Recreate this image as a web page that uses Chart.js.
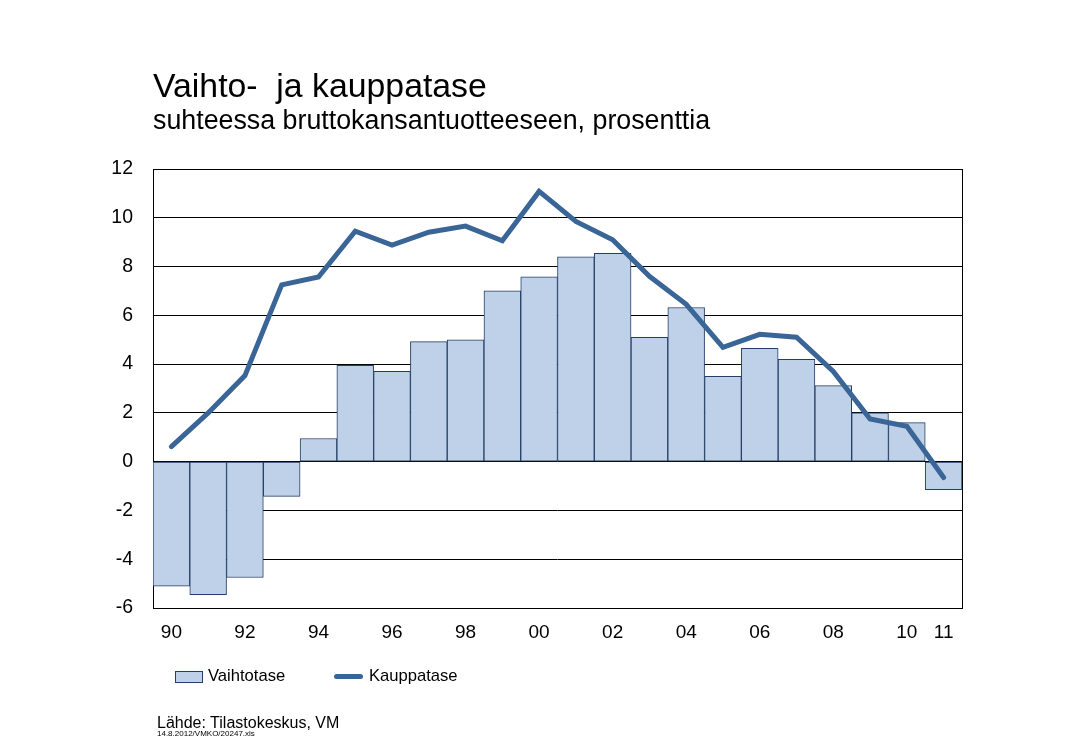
<!DOCTYPE html>
<html>
<head>
<meta charset="utf-8">
<script src="https://cdn.jsdelivr.net/npm/chart.js@4/dist/chart.umd.min.js"></script>
<style>
  html, body { margin: 0; padding: 0; background: #fff; }
  body { width: 1077px; height: 749px; position: relative; overflow: hidden; font-family: "Liberation Sans", Arial, sans-serif; color: #000; }
  #wrap { position: absolute; left: 0; top: 0; width: 1077px; height: 749px; }
  .t { position: absolute; white-space: pre; line-height: 1; }
  #title { left: 153px; top: 69px; font-size: 33.8px; }
  #subtitle { left: 153px; top: 106.5px; font-size: 26.8px; }
  .leg { position: absolute; font-size: 16.6px; line-height: 1; top: 668px; white-space: pre; }
  #legBox { position: absolute; left: 175px; top: 671px; width: 26px; height: 10px; background: #bfd0e9; border: 1px solid #243f66; }
  #legLine { position: absolute; left: 334px; top: 673.5px; width: 29px; height: 5px; background: #3a6597; border-radius: 2.5px; }
  #source { left: 157px; top: 714.5px; font-size: 16px; }
  #file { left: 157px; top: 730px; font-size: 8px; }
</style>
</head>
<body>
<div id="wrap"><canvas id="c"></canvas></div>
<div class="t" id="title">Vaihto-  ja kauppatase</div>
<div class="t" id="subtitle">suhteessa bruttokansantuotteeseen, prosenttia</div>
<div id="legBox"></div>
<div class="leg" style="left:208px">Vaihtotase</div>
<div id="legLine"></div>
<div class="leg" style="left:369px">Kauppatase</div>
<div class="t" id="source">Lähde: Tilastokeskus, VM</div>
<div class="t" id="file">14.8.2012/VMKO/20247.xls</div>
<script>
const categories = ['90','91','92','93','94','95','96','97','98','99','00','01','02','03','04','05','06','07','08','09','10','11'];
const vaihtotase = [-5.1, -5.45, -4.75, -1.42, 0.95, 3.95, 3.7, 4.92, 5.0, 7.0, 7.58, 8.4, 8.54, 5.1, 6.32, 3.5, 4.65, 4.2, 3.12, 2.0, 1.6, -1.15];
const kauppatase = [0.62, 2.0, 3.53, 7.25, 7.57, 9.45, 8.88, 9.41, 9.66, 9.06, 11.08, 9.85, 9.1, 7.6, 6.45, 4.69, 5.22, 5.1, 3.7, 1.75, 1.45, -0.65];
const shownXTicks = ['90','92','94','96','98','00','02','04','06','08','10','11'];
const yMin = -6, yMax = 12, yStep = 2;

const FONT = '"Liberation Sans", Arial, sans-serif';

const frame = {
  id: 'frame',
  beforeDatasetsDraw(chart) {
    const a = chart.chartArea, ctx = chart.ctx;
    ctx.save();
    ctx.strokeStyle = '#000';
    ctx.lineWidth = 1;
    ctx.strokeRect(Math.round(a.left) + 0.5, Math.round(a.top) + 0.5, Math.round(a.right - a.left), Math.round(a.bottom - a.top));
    ctx.restore();
  }
};

new Chart(document.getElementById('c'), {
  data: {
    labels: categories,
    datasets: [
      {
        type: 'line',
        label: 'Kauppatase',
        data: kauppatase,
        borderColor: '#3a6597',
        backgroundColor: '#3a6597',
        borderWidth: 5,
        borderCapStyle: 'round',
        borderJoinStyle: 'miter',
        pointRadius: 0,
        pointHoverRadius: 0,
        tension: 0,
        order: 1
      },
      {
        type: 'bar',
        label: 'Vaihtotase',
        data: vaihtotase,
        backgroundColor: '#bfd0e9',
        borderColor: '#243f66',
        borderWidth: 1,
        borderSkipped: false,
        barPercentage: 1,
        categoryPercentage: 1,
        order: 2
      }
    ]
  },
  options: {
    responsive: true,
    maintainAspectRatio: false,
    animation: false,
    events: [],
    layout: { padding: { left: 0, right: 115, top: 169, bottom: 101 } },
    plugins: {
      legend: { display: false },
      title: { display: false },
      tooltip: { enabled: false }
    },
    scales: {
      x: {
        type: 'category',
        offset: true,
        grid: { display: false, drawTicks: false },
        border: { display: false },
        afterFit(scale) { scale.height = 40; },
        ticks: {
          autoSkip: false,
          maxRotation: 0,
          padding: 13,
          color: '#000',
          font: { family: FONT, size: 19 },
          callback(value, index) {
            const lab = categories[index];
            return shownXTicks.includes(lab) ? lab : '';
          }
        }
      },
      y: {
        min: yMin,
        max: yMax,
        afterFit(scale) { scale.width = 153; },
        grid: { color: '#000', lineWidth: 1, drawTicks: false },
        border: { display: false },
        ticks: {
          stepSize: yStep,
          padding: 20,
          color: '#000',
          font: { family: FONT, size: 19.5 }
        }
      }
    }
  },
  plugins: [frame]
});
</script>
</body>
</html>
